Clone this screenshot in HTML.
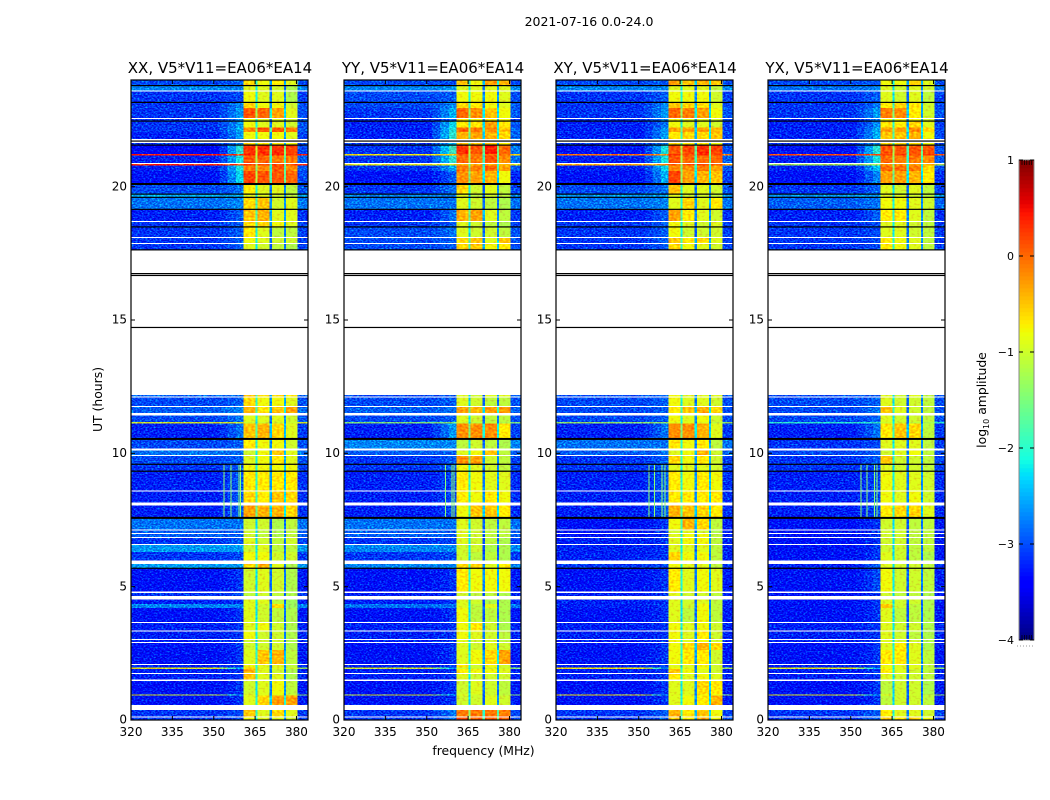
<!DOCTYPE html>
<html>
<head>
<meta charset="utf-8">
<title>2021-07-16 0.0-24.0</title>
<style>
html,body{margin:0;padding:0;background:#fff;}
svg{display:block;font-family:"DejaVu Sans","Liberation Sans",sans-serif;fill:#000;}
</style>
</head>
<body>
<svg id="figure" width="1050" height="800" viewBox="0 0 1050 800" xmlns="http://www.w3.org/2000/svg">
  <defs>
    <filter id="speckle-bg" filterUnits="userSpaceOnUse" x="0" y="0" width="1050" height="800" color-interpolation-filters="sRGB">
      <feTurbulence type="fractalNoise" baseFrequency="0.5 0.7" numOctaves="2" seed="7" result="n"/>
      <feColorMatrix in="n" type="matrix" values="0 0 0 0 0.25  1.5 0 0 0 -0.62  0.8 0 0 0 -0.15  0 0 0 0 1" result="m"/>
      <feComposite in="SourceGraphic" in2="m" operator="arithmetic" k1="0" k2="1" k3="1" k4="-0.25" result="a"/>
      <feComposite in="a" in2="SourceGraphic" operator="in"/>
    </filter>
    <filter id="speckle-band" filterUnits="userSpaceOnUse" x="0" y="0" width="1050" height="800" color-interpolation-filters="sRGB">
      <feTurbulence type="fractalNoise" baseFrequency="0.35 0.5" numOctaves="1" seed="3" result="n"/>
      <feColorMatrix in="n" type="matrix" values="0 0 0 0 0.25  0.7 0 0 0 -0.1  0 0 0 0 0.25  0 0 0 0 1" result="m"/>
      <feComposite in="SourceGraphic" in2="m" operator="arithmetic" k1="0" k2="1" k3="1" k4="-0.25" result="a"/>
      <feComposite in="a" in2="SourceGraphic" operator="in"/>
    </filter>
  </defs>
  <text x="589" y="26" font-size="12.5" text-anchor="middle">2021-07-16 0.0-24.0</text>
  <text x="102" y="399.5" font-size="12.4" text-anchor="middle" transform="rotate(-90 102 399.5)">UT (hours)</text>
  <text x="483.5" y="755" font-size="12.4" text-anchor="middle">frequency (MHz)</text>
  <g id="panels"></g>
  <g id="colorbar"></g>
  <text x="986" y="400" font-size="12.4" text-anchor="middle" transform="rotate(-90 986 400)">log<tspan font-size="8" dy="3">10</tspan><tspan dy="-3"> amplitude</tspan></text>
</svg>
<script>
// ---- chart data ----
const panelNames = ['XX', 'YY', 'XY', 'YX'];
const titleSuffix = ', V5*V11=EA06*EA14';
const xTickValues = [320, 335, 350, 365, 380];
const yTickValues = [0, 5, 10, 15, 20];
const colorbarTicks = [1, 0, -1, -2, -3, -4];
const colorbarTickLabels = ['1', '0', '\u22121', '\u22122', '\u22123', '\u22124'];

// frequency bands in MHz: background, glow, edge, spectral windows and the gaps between them
const freqBands = [
  ['bg', 320, 352], ['mid1', 352, 355], ['mid2', 355, 358], ['edge', 358, 360.7],
  ['a', 360.7, 365.1], ['gap1', 365.1, 365.9], ['b', 365.9, 370.3], ['gap2', 370.3, 371.1],
  ['c', 371.1, 375.4], ['gap3', 375.4, 376.2], ['d', 376.2, 380.4], ['right', 380.4, 384.2]
];

// time rows in hours [top, bottom]; anything not listed is flagged (white)
const rowHours = [
[24.00,23.79],[23.79,23.60],[23.56,23.16],[23.16,22.95],[22.95,22.58],[22.53,22.46],[22.46,22.22],[22.22,22.05],[22.05,21.79],[21.64,21.56],
[21.56,21.22],[21.22,21.17],[21.17,20.88],[20.85,20.79],[20.79,20.58],[20.58,20.10],[20.10,19.72],[19.72,19.60],[19.60,19.15],[19.15,18.72],
[18.67,18.49],[18.49,18.12],[18.07,17.89],[17.85,17.62],[12.19,12.14],[12.09,11.78],[11.74,11.51],[11.42,11.17],[11.17,11.12],[11.12,10.54],
[10.54,10.18],[10.10,9.94],[9.90,9.59],[9.59,9.33],[9.33,8.60],[8.56,8.15],[8.05,7.58],[7.58,7.14],[7.10,7.01],[6.97,6.87],
[6.83,6.60],[6.56,6.30],[6.30,5.98],[5.85,5.69],[5.69,4.82],[4.77,4.65],[4.52,4.35],[4.35,4.20],[4.20,3.68],[3.64,3.36],
[3.32,3.04],[3.00,2.93],[2.89,2.63],[2.63,2.10],[2.06,1.97],[1.97,1.92],[1.92,1.77],[1.73,1.52],[1.46,0.96],[0.96,0.91],
[0.91,0.56],[0.37,0.13],[0.09,0.00]
];

// log10 amplitude in tenths for each row: [background, edge, window a, b, c, d]
const levelsXX = [
[-29,-28,-6,-8,-7,-9],[-26,-26,-9,-9,-10,-12],[-30,-29,-8,-9,-9,-12],[-30,-26,-6,-8,-8,-10],[-30,-25,1,0,-3,-9],[-30,-26,-8,-9,-9,-10],[-30,-25,-8,-9,-9,-10],[-30,-24,-2,1,1,-1],[-31,-25,-8,-8,-8,-9],[-30,-26,-6,-7,-7,-8],
[-33,-20,3,3,3,2],[3,1,3,3,3,3],[-31,-21,1,0,-1,-1],[2,0,2,2,2,2],[-31,-21,-1,-2,1,-2],[-32,-22,2,1,1,0],[-29,-27,-7,-9,-9,-11],[-24,-24,-9,-9,-10,-11],[-27,-26,-6,-5,-10,-9],[-31,-28,-5,-4,-9,-9],
[-30,-28,-6,-6,-8,-9],[-30,-28,-7,-9,-11,-11],[-30,-28,-8,-9,-10,-10],[-30,-28,-9,-10,-11,-12],[-28,-27,-5,-6,-6,-7],[-29,-28,-6,-8,-8,-9],[-28,-26,-4,-7,-5,-3],[-29,-27,-9,-9,-9,-10],[-10,-10,-10,-10,-10,-10],[-31,-27,-5,-4,-6,-9],
[-29,-28,-7,-8,-8,-10],[-27,-27,-10,-8,-5,-9],[-29,-28,-9,-8,-7,-9],[-30,-28,-8,-8,-8,-8],[-31,-28,-7,-7,-7,-7],[-31,-28,-6,-7,-5,-6],[-31,-28,-3,-4,-4,-6],[-27,-27,-10,-10,-12,-11],[-28,-28,-10,-11,-12,-11],[-28,-28,-10,-11,-12,-11],
[-30,-28,-9,-10,-11,-10],[-25,-25,-10,-9,-11,-11],[-30,-29,-8,-8,-10,-10],[-25,-25,-6,-4,-9,-12],[-32,-30,-10,-9,-10,-12],[-30,-29,-11,-10,-11,-12],[-31,-30,-9,-9,-11,-13],[-26,-26,-9,-10,-6,-13],[-32,-30,-9,-10,-11,-12],[-31,-30,-9,-8,-10,-12],
[-31,-30,-8,-10,-10,-12],[-31,-30,-10,-10,-10,-12],[-32,-30,-10,-10,-10,-12],[-32,-30,-9,-5,-4,-11],[-31,-30,-8,-9,-9,-11],[-9,-25,-5,-9,-9,-10],[-31,-30,-4,-9,-10,-12],[-31,-30,-5,-9,-9,-12],[-32,-30,-10,-9,-8,-11],[-10,-25,-9,-9,-9,-10],
[-32,-30,-9,-6,-3,-3],[-30,-29,-5,-9,-6,-9],[-30,-29,-8,-9,-9,-10]
];
const levelsYY = [
[-29,-29,-5,-8,-3,-4],[-26,-25,-9,-9,-9,-9],[-29,-28,-8,-8,-8,-9],[-29,-26,-6,-7,-8,-9],[-30,-24,0,-2,-5,-8],[-31,-28,-7,-8,-7,-8],[-31,-22,-7,-7,-3,-7],[-31,-21,0,-1,-2,-5],[-31,-20,-4,-3,-4,-6],[-30,-24,-5,-5,-5,-7],
[-30,-19,3,1,4,0],[-8,-6,0,0,0,0],[-30,-20,0,-1,1,-2],[-9,-9,-4,-4,-3,-5],[-30,-24,-1,-1,0,-3],[-32,-28,-2,-3,-4,-8],[-30,-27,-6,-10,-9,-11],[-26,-26,-9,-11,-10,-11],[-27,-27,-9,-10,-11,-12],[-31,-27,-4,-3,-9,-11],
[-30,-28,-9,-10,-11,-12],[-29,-27,-9,-10,-10,-11],[-29,-28,-6,-5,-9,-5],[-29,-28,-6,-5,-8,-7],[-29,-28,-9,-10,-9,-9],[-29,-28,-9,-10,-11,-11],[-28,-27,-3,-4,-3,-3],[-29,-28,-9,-10,-11,-11],[-15,-15,-10,-11,-11,-12],[-31,-25,-2,-2,-2,-7],
[-26,-26,-11,-10,-11,-12],[-28,-28,-9,-8,-5,-11],[-30,-28,-2,-3,-10,-11],[-30,-28,-8,-9,-10,-11],[-31,-29,-7,-8,-9,-9],[-31,-29,-7,-8,-7,-8],[-31,-29,-8,-5,-5,-7],[-27,-27,-9,-10,-11,-11],[-28,-28,-9,-10,-11,-11],[-28,-28,-9,-10,-11,-11],
[-30,-29,-9,-10,-11,-12],[-26,-26,-10,-10,-12,-12],[-30,-29,-10,-11,-11,-12],[-26,-26,-6,-6,-9,-7],[-32,-30,-7,-8,-8,-8],[-31,-30,-10,-11,-11,-12],[-31,-30,-9,-10,-12,-12],[-27,-27,-9,-11,-9,-12],[-32,-30,-8,-11,-11,-12],[-31,-30,-8,-7,-10,-12],
[-31,-30,-8,-9,-10,-11],[-31,-30,-9,-10,-10,-11],[-32,-30,-9,-10,-9,-10],[-32,-30,-9,-8,-6,-3],[-31,-30,-7,-10,-8,-10],[-10,-25,-10,-10,-10,-10],[-31,-30,-7,-8,-8,-9],[-31,-30,-9,-10,-10,-10],[-32,-30,-10,-9,-10,-11],[-10,-25,-9,-10,-10,-11],
[-32,-30,-10,-10,-9,-10],[-30,-27,-1,-1,-1,-1],[-30,-27,1,1,1,1]
];
const levelsXY = [
[-29,-28,-3,-5,-4,-5],[-26,-26,-9,-9,-9,-11],[-30,-28,-8,-8,-8,-10],[-30,-26,-5,-6,-6,-9],[-30,-25,0,-1,-3,-8],[-30,-26,-8,-9,-9,-10],[-31,-27,-8,-9,-9,-10],[-31,-25,-3,-3,-3,-4],[-31,-25,-7,-6,-6,-5],[-30,-26,-6,-7,-7,-8],
[-32,-21,1,2,3,2],[-2,-2,3,2,3,2],[-31,-21,1,0,0,0],[-5,-3,1,1,1,1],[-31,-22,-2,-2,-1,-3],[-32,-24,2,-3,-4,-5],[-29,-27,-5,-9,-9,-10],[-25,-25,-9,-10,-10,-11],[-27,-26,-9,-6,-9,-7],[-31,-28,-3,-7,-9,-10],
[-30,-28,-8,-9,-10,-9],[-30,-28,-8,-10,-10,-10],[-30,-28,-5,-7,-6,-9],[-30,-28,-6,-8,-9,-10],[-29,-28,-8,-9,-9,-9],[-29,-28,-8,-9,-9,-10],[-29,-28,-7,-5,-4,-6],[-29,-28,-8,-9,-8,-10],[-14,-14,-9,-9,-9,-11],[-31,-27,-2,-2,-4,-9],
[-27,-27,-7,-8,-7,-11],[-28,-27,-9,-8,-4,-10],[-30,-28,-6,-8,-7,-10],[-30,-28,-9,-9,-9,-10],[-31,-28,-7,-8,-7,-8],[-31,-28,-7,-7,-7,-7],[-31,-28,-4,-5,-6,-7],[-32,-30,-8,-4,-6,-11],[-32,-30,-10,-9,-10,-12],[-32,-30,-9,-8,-8,-11],
[-31,-30,-9,-8,-8,-11],[-31,-30,-9,-9,-9,-11],[-31,-30,-6,-8,-8,-11],[-30,-29,-8,-9,-9,-11],[-32,-30,-7,-9,-8,-9],[-31,-30,-9,-10,-10,-11],[-31,-30,-9,-10,-9,-11],[-31,-30,-9,-10,-8,-11],[-32,-30,-9,-11,-8,-11],[-31,-30,-8,-9,-8,-10],
[-31,-30,-8,-9,-7,-10],[-31,-30,-8,-9,-8,-10],[-32,-30,-8,-6,-4,-6],[-32,-30,-8,-7,-7,-10],[-31,-30,-9,-9,-8,-10],[-8,-25,-8,-9,-8,-10],[-31,-30,-5,-8,-9,-10],[-31,-30,-7,-9,-8,-9],[-32,-30,-9,-9,-6,-7],[-8,-25,-9,-9,-8,-9],
[-32,-30,-9,-8,-7,-4],[-30,-28,-4,-7,-5,-8],[-30,-28,-5,-7,-4,-8]
];
const levelsYX = [
[-29,-28,-8,-8,-6,-9],[-27,-26,-9,-10,-9,-10],[-30,-28,-9,-10,-9,-11],[-30,-27,-7,-6,-7,-10],[-30,-25,-1,-2,-7,-10],[-31,-27,-8,-8,-8,-10],[-31,-26,-7,-7,-6,-9],[-31,-24,-3,-3,-2,-6],[-31,-24,-5,-5,-4,-8],[-30,-26,-6,-6,-6,-8],
[-32,-20,1,1,1,1],[0,0,2,2,2,2],[-31,-21,0,-1,-1,-2],[-13,-12,-3,-3,-3,-4],[-31,-23,0,0,-1,-6],[-32,-26,-3,-3,-4,-7],[-30,-28,-9,-10,-9,-11],[-25,-25,-9,-9,-10,-11],[-28,-27,-8,-8,-9,-10],[-31,-28,-7,-7,-9,-11],
[-30,-29,-9,-9,-10,-11],[-30,-29,-9,-9,-10,-11],[-30,-29,-7,-8,-9,-11],[-30,-29,-7,-8,-9,-11],[-29,-28,-9,-10,-9,-11],[-29,-28,-9,-10,-10,-11],[-29,-27,-5,-9,-10,-11],[-29,-28,-9,-10,-10,-11],[-20,-20,-10,-10,-11,-12],[-31,-27,-7,-5,-6,-11],
[-30,-29,-9,-9,-9,-11],[-29,-28,-10,-9,-8,-11],[-30,-28,-5,-10,-10,-11],[-30,-29,-9,-10,-10,-11],[-31,-29,-8,-9,-9,-10],[-31,-29,-8,-9,-8,-10],[-31,-29,-7,-6,-6,-9],[-32,-30,-10,-10,-11,-11],[-32,-30,-10,-10,-11,-11],[-32,-30,-10,-10,-11,-11],
[-32,-30,-10,-10,-11,-11],[-32,-30,-10,-10,-11,-11],[-32,-30,-9,-10,-11,-12],[-31,-28,-9,-10,-10,-11],[-32,-29,-8,-10,-10,-11],[-32,-30,-10,-11,-11,-12],[-32,-30,-9,-10,-10,-12],[-32,-30,-5,-10,-11,-12],[-32,-30,-9,-11,-11,-12],[-31,-30,-9,-10,-10,-12],
[-31,-30,-9,-10,-11,-12],[-31,-30,-9,-10,-10,-12],[-32,-30,-9,-7,-9,-12],[-32,-30,-7,-7,-9,-11],[-31,-30,-8,-9,-9,-11],[-9,-25,-8,-9,-9,-11],[-31,-30,-7,-9,-10,-11],[-31,-30,-9,-10,-10,-11],[-32,-30,-11,-10,-10,-12],[-9,-25,-9,-10,-10,-11],
[-32,-30,-11,-10,-10,-11],[-30,-28,-7,-9,-9,-10],[-30,-28,-5,-6,-6,-8]
];
const panelLevels = [levelsXX, levelsYY, levelsXY, levelsYX];

// flagged integrations drawn in black, hours
const blackLineHours = [23.79, 23.16, 22.46, 21.71, 21.56, 19.72, 19.60, 19.15, 18.49, 17.63, 16.74, 16.67, 14.72, 9.59, 9.33, 5.69];
const thickBlackLineHours = [20.10, 10.54, 7.58];

// narrow vertical interference features, MHz, per panel
const rfiFreqs = [[353.6, 356.1, 359.0, 359.6], [356.7, 358.9, 359.7], [353.5, 355.6, 358.3, 359.3], [353.5, 355.7, 358.4, 359.4]];
const rfiHours = [9.6, 7.6];
const rfiLevel = -1.4;

// ---- layout and scales ----
const panelLeft = [131, 344, 556, 768];
const axTop = 80, axBottom = 720, axWidth = 177;
const xScale = function (mhz, left) { return left + (mhz - 320) * 2.758; };
const yScale = function (hours) { return axBottom - hours * (axBottom - axTop) / 24; };
const interp = function (f, pts) {
  for (let i = 1; i < pts.length; i++) {
    if (f <= pts[i][0]) {
      const p = pts[i - 1], q = pts[i];
      return p[1] + (q[1] - p[1]) * (f - p[0]) / (q[0] - p[0]);
    }
  }
  return pts[pts.length - 1][1];
};
const jet = function (logAmp) {
  const f = Math.max(0, Math.min(1, (logAmp + 4) / 5));
  const r = interp(f, [[0, 0], [0.35, 0], [0.66, 1], [0.89, 1], [1, 0.5]]);
  const g = interp(f, [[0, 0], [0.125, 0], [0.375, 1], [0.64, 1], [0.91, 0], [1, 0]]);
  const b = interp(f, [[0, 0.5], [0.11, 1], [0.34, 1], [0.65, 0], [1, 0]]);
  return 'rgb(' + Math.round(r * 255) + ',' + Math.round(g * 255) + ',' + Math.round(b * 255) + ')';
};
const NS = 'http://www.w3.org/2000/svg';
const make = function (tag, parent) {
  const el = document.createElementNS(NS, tag);
  parent.appendChild(el);
  return el;
};
const bandLevel = function (kind, row) {
  const bg = row[0], edge = row[1], a = row[2], b = row[3], c = row[4], d = row[5];
  if (kind === 'bg') return bg / 10;
  if (kind === 'mid1') return (bg * 0.75 + edge * 0.25) / 10;
  if (kind === 'mid2') return (bg * 0.4 + edge * 0.6) / 10;
  if (kind === 'edge') return edge / 10;
  if (kind === 'a') return a / 10;
  if (kind === 'b') return b / 10;
  if (kind === 'c') return c / 10;
  if (kind === 'd') return d / 10;
  if (kind === 'gap1') return (a + b) / 20 - 1.3;
  if (kind === 'gap2') return (b + c) / 20 - 1.9;
  if (kind === 'gap3') return (c + d) / 20 - 1.7;
  return (bg * 0.7 + edge * 0.3) / 10;
};

// ---- panels ----
const panelsRoot = document.getElementById('panels');
panelNames.forEach(function (name, p) {
  const left = panelLeft[p];
  const levels = panelLevels[p];
  const panel = make('g', panelsRoot);
  
  

  const bgGroup = make('g', panel);
  
  
  bgGroup.setAttribute('filter', 'url(#speckle-bg)');
  bgGroup.setAttribute('shape-rendering', 'crispEdges');
  const bandGroup = make('g', panel);
  
  
  bandGroup.setAttribute('filter', 'url(#speckle-band)');
  bandGroup.setAttribute('shape-rendering', 'crispEdges');

  rowHours.forEach(function (span, r) {
    freqBands.forEach(function (band) {
      const kind = band[0];
      const isBg = kind === 'bg' || kind === 'mid1' || kind === 'mid2' || kind === 'edge' || kind === 'right';
      const cell = make('rect', isBg ? bgGroup : bandGroup);
      
      
      const x0 = xScale(band[1], left), x1 = xScale(band[2], left);
      const y0 = yScale(span[0]), y1 = yScale(span[1]);
      cell.setAttribute('x', x0.toFixed(2));
      cell.setAttribute('y', y0.toFixed(2));
      cell.setAttribute('width', (x1 - x0).toFixed(2));
      cell.setAttribute('height', Math.max(1, y1 - y0).toFixed(2));
      cell.setAttribute('fill', jet(bandLevel(kind, levels[r])));
    });
  });

  rfiFreqs[p].forEach(function (mhz) {
    const rfi = make('rect', panel);
    
    
    rfi.setAttribute('x', xScale(mhz, left).toFixed(2));
    rfi.setAttribute('y', yScale(rfiHours[0]).toFixed(2));
    rfi.setAttribute('width', '1');
    rfi.setAttribute('height', (yScale(rfiHours[1]) - yScale(rfiHours[0])).toFixed(2));
    rfi.setAttribute('fill', jet(rfiLevel));
    rfi.setAttribute('shape-rendering', 'crispEdges');
  });

  blackLineHours.forEach(function (h) {
    const line = make('rect', panel);
    
    
    line.setAttribute('x', left);
    line.setAttribute('y', (yScale(h) - 0.6).toFixed(2));
    line.setAttribute('width', axWidth);
    line.setAttribute('height', '1.2');
    line.setAttribute('fill', '#000');
  });
  thickBlackLineHours.forEach(function (h) {
    const line = make('rect', panel);
    
    
    line.setAttribute('x', left);
    line.setAttribute('y', (yScale(h) - 1).toFixed(2));
    line.setAttribute('width', axWidth);
    line.setAttribute('height', '2');
    line.setAttribute('fill', '#000');
  });

  const frame = make('rect', panel);
  
  
  frame.setAttribute('x', left);
  frame.setAttribute('y', axTop);
  frame.setAttribute('width', axWidth);
  frame.setAttribute('height', axBottom - axTop);
  frame.setAttribute('fill', 'none');
  frame.setAttribute('stroke', '#000');
  frame.setAttribute('stroke-width', '1.2');

  const title = make('text', panel);
  
  
  title.setAttribute('x', left + axWidth / 2 + 0.5);
  title.setAttribute('y', '73');
  title.setAttribute('font-size', '15');
  title.setAttribute('text-anchor', 'middle');
  title.textContent = name + titleSuffix;

  xTickValues.forEach(function (v) {
    const x = xScale(v, left);
    const tickBottom = make('line', panel);
    
    
    tickBottom.setAttribute('x1', x);
    tickBottom.setAttribute('x2', x);
    tickBottom.setAttribute('y1', axBottom);
    tickBottom.setAttribute('y2', axBottom - 4);
    tickBottom.setAttribute('stroke', '#000');
    const tickTop = make('line', panel);
    
    
    tickTop.setAttribute('x1', x);
    tickTop.setAttribute('x2', x);
    tickTop.setAttribute('y1', axTop);
    tickTop.setAttribute('y2', axTop + 4);
    tickTop.setAttribute('stroke', '#000');
    const label = make('text', panel);
    
    
    label.setAttribute('x', x);
    label.setAttribute('y', '736');
    label.setAttribute('font-size', '12');
    label.setAttribute('text-anchor', 'middle');
    label.textContent = v;
  });
  yTickValues.forEach(function (v) {
    const y = yScale(v);
    const tickLeft = make('line', panel);
    
    
    tickLeft.setAttribute('x1', left);
    tickLeft.setAttribute('x2', left + 4);
    tickLeft.setAttribute('y1', y);
    tickLeft.setAttribute('y2', y);
    tickLeft.setAttribute('stroke', '#000');
    const tickRight = make('line', panel);
    
    
    tickRight.setAttribute('x1', left + axWidth);
    tickRight.setAttribute('x2', left + axWidth - 4);
    tickRight.setAttribute('y1', y);
    tickRight.setAttribute('y2', y);
    tickRight.setAttribute('stroke', '#000');
    const label = make('text', panel);
    
    
    label.setAttribute('x', left - 4);
    label.setAttribute('y', y + 3.6);
    label.setAttribute('font-size', '12');
    label.setAttribute('text-anchor', 'end');
    label.textContent = v;
  });
});

// ---- colorbar ----
const cbRoot = document.getElementById('colorbar');
const cbLeft = 1019, cbRight = 1034, cbTop = 160, cbBottom = 640;
const cbScale = function (v) { return cbBottom - (v + 4) * (cbBottom - cbTop) / 5; };
for (let i = 0; i < 120; i++) {
  const seg = make('rect', cbRoot);
  
  
  const v = -4 + (i + 0.5) * 5 / 120;
  seg.setAttribute('x', cbLeft);
  seg.setAttribute('y', (cbBottom - (i + 1) * 4));
  seg.setAttribute('width', cbRight - cbLeft);
  seg.setAttribute('height', '4.3');
  seg.setAttribute('fill', jet(v));
}
const cbFrame = make('rect', cbRoot);


cbFrame.setAttribute('x', cbLeft);
cbFrame.setAttribute('y', cbTop);
cbFrame.setAttribute('width', cbRight - cbLeft);
cbFrame.setAttribute('height', cbBottom - cbTop);
cbFrame.setAttribute('fill', 'none');
cbFrame.setAttribute('stroke', '#888');
for (let i = 0; i < 5; i++) {
  const x = cbLeft + 3 + i * 2.4;
  const capTop = make('line', cbRoot);
  
  
  capTop.setAttribute('x1', x);
  capTop.setAttribute('x2', x);
  capTop.setAttribute('y1', cbTop);
  capTop.setAttribute('y2', cbTop + 5);
  capTop.setAttribute('stroke', '#000');
  capTop.setAttribute('stroke-width', '0.7');
  const capBottom = make('line', cbRoot);
  
  
  capBottom.setAttribute('x1', x);
  capBottom.setAttribute('x2', x);
  capBottom.setAttribute('y1', cbBottom);
  capBottom.setAttribute('y2', cbBottom - 5);
  capBottom.setAttribute('stroke', '#000');
  capBottom.setAttribute('stroke-width', '0.7');
}
colorbarTicks.forEach(function (v, i) {
  const y = cbScale(v);
  const tl = make('line', cbRoot);
  
  
  tl.setAttribute('x1', cbLeft);
  tl.setAttribute('x2', cbLeft + 4);
  tl.setAttribute('y1', y);
  tl.setAttribute('y2', y);
  tl.setAttribute('stroke', '#000');
  const tr = make('line', cbRoot);
  
  
  tr.setAttribute('x1', cbRight);
  tr.setAttribute('x2', cbRight - 4);
  tr.setAttribute('y1', y);
  tr.setAttribute('y2', y);
  tr.setAttribute('stroke', '#000');
  const label = make('text', cbRoot);
  
  
  label.setAttribute('x', '1014');
  label.setAttribute('y', y + 4);
  label.setAttribute('font-size', '11');
  label.setAttribute('text-anchor', 'end');
  label.textContent = colorbarTickLabels[i];
});
const cbDots = make('line', cbRoot);


cbDots.setAttribute('x1', '1017');
cbDots.setAttribute('x2', '1035');
cbDots.setAttribute('y1', '646');
cbDots.setAttribute('y2', '646');
cbDots.setAttribute('stroke', '#999');
cbDots.setAttribute('stroke-dasharray', '1 2');
</script>
</body>
</html>
